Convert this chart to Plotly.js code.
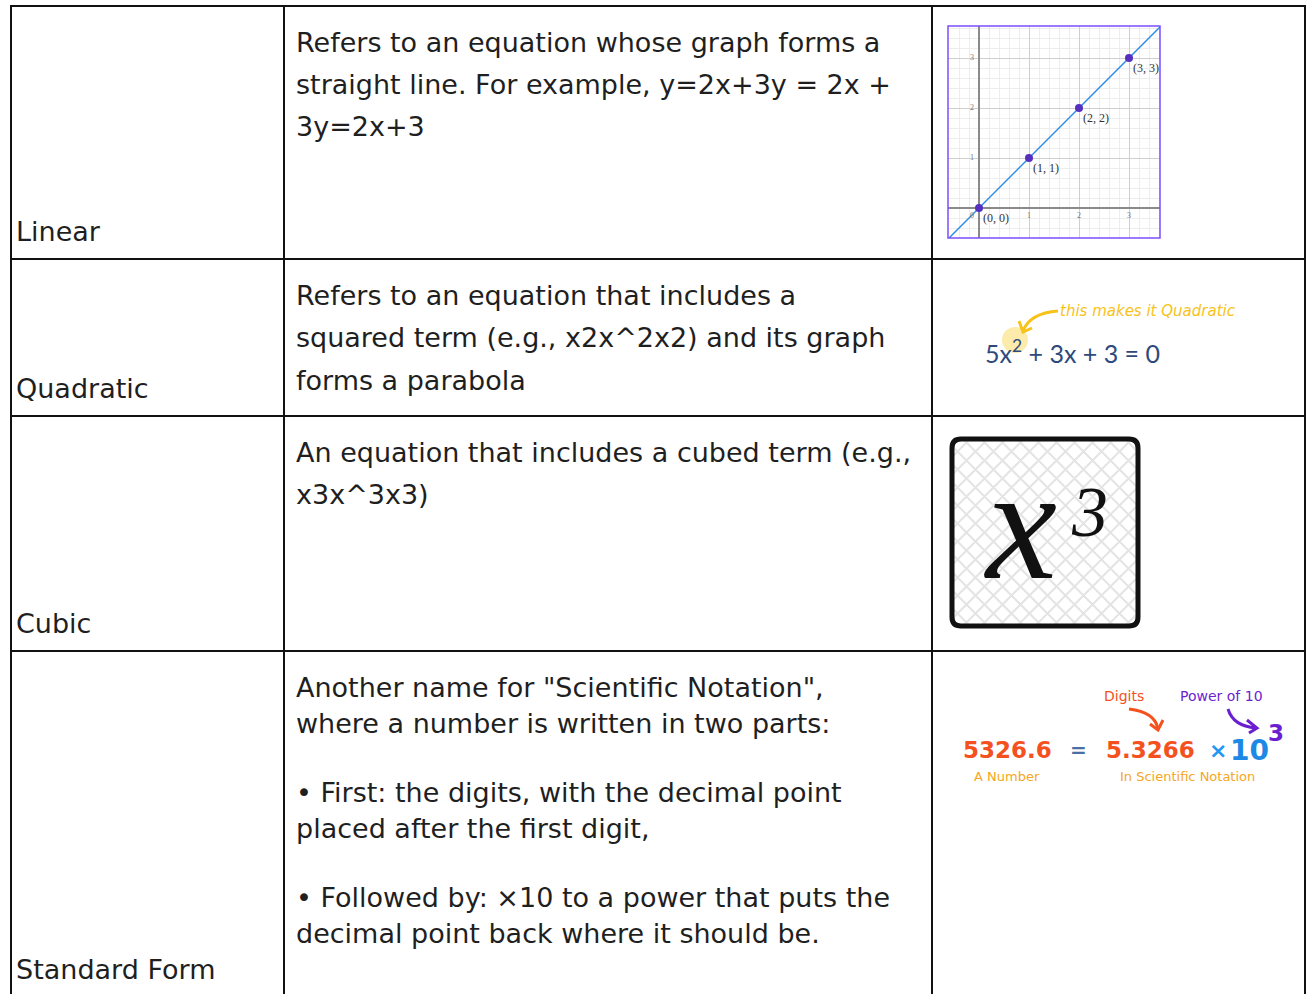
<!DOCTYPE html>
<html>
<head>
<meta charset="utf-8">
<script src="https://cdn.plot.ly/plotly-3.0.1.min.js"></script>
<style>
  html, body { margin: 0; padding: 0; background: #fff; }
  #chart { width: 1311px; height: 994px; }
</style>
</head>
<body>
<div id="chart"></div>
<script>
// --- data ---
const terms = ['Linear', 'Quadratic', 'Cubic', 'Standard Form'];
const definitions = [
  [['Refers to an equation whose graph forms a', 'straight line. For example, y=2x+3y = 2x +', '3y=2x+3']],
  [['Refers to an equation that includes a', 'squared term (e.g., x2x^2x2) and its graph', 'forms a parabola']],
  [['An equation that includes a cubed term (e.g.,', 'x3x^3x3)']],
  [['Another name for "Scientific Notation",', 'where a number is written in two parts:'],
   ['\u2022 First: the digits, with the decimal point', 'placed after the first digit,'],
   ['\u2022 Followed by: \u00d710 to a power that puts the', 'decimal point back where it should be.']]
];

// linear example: y = x
const lineX = [-1, 4];
const lineY = [-1, 4];
const pointX = [0, 1, 2, 3];
const pointY = [0, 1, 2, 3];
const pointLabels = ['(0, 0)', '(1, 1)', '(2, 2)', '(3, 3)'];
const axisTicks = [1, 2, 3];

// quadratic example
const quadEquation = '5x<sup>2</sup> + 3x + 3 = 0';
const quadNote = 'this makes it Quadratic';

// standard form example
const sfNumber = '5326.6';
const sfDigits = '5.3266';
const sfBase = '10';
const sfPower = '3';

// --- layout constants (pixels) ---
const W = 1311, H = 994;
const colX = [11, 284, 932, 1305];
const rowY = [6, 259, 416, 651, 997];
const lineGap = [42, 42.5, 42, 36.5];
const paraGap = 32;
const textFont = 'DejaVu Sans, sans-serif';
const textSize = 27;

const shapes = [];
const annotations = [];

// table grid
rowY.slice(0, 4).forEach(y => shapes.push({ type: 'line', xref: 'x', yref: 'y', x0: colX[0] - 1, x1: colX[3] + 1, y0: y, y1: y, line: { color: '#111', width: 2 } }));
colX.forEach(x => shapes.push({ type: 'line', xref: 'x', yref: 'y', x0: x, x1: x, y0: rowY[0] - 1, y1: H + 5, line: { color: '#111', width: 2 } }));

// term labels and definitions
terms.forEach((t, i) => {
  annotations.push({ xref: 'x', yref: 'y', x: 14, y: rowY[i + 1] - 28, text: t, showarrow: false,
    xanchor: 'left', yanchor: 'middle', font: { family: textFont, size: textSize, color: '#1f1f1f' } });
  let y = rowY[i] + 36;
  definitions[i].forEach((para, p) => {
    if (p > 0) y += paraGap;
    para.forEach(line => {
      annotations.push({ xref: 'x', yref: 'y', x: 294, y, text: line, showarrow: false,
        xanchor: 'left', yanchor: 'middle', font: { family: textFont, size: textSize, color: '#1f1f1f' } });
      y += lineGap[i];
    });
  });
});

// linear inset frame
shapes.push({ type: 'rect', xref: 'x2 domain', yref: 'y2 domain', x0: 0, x1: 1, y0: 0, y1: 1, line: { color: '#7c4dff', width: 1.5 } });
pointX.forEach((px, i) => annotations.push({ xref: 'x2', yref: 'y2', x: px, y: pointY[i], text: pointLabels[i], showarrow: false,
  xanchor: 'left', yanchor: 'middle', xshift: 2, yshift: -10, font: { family: 'Liberation Serif, serif', size: 12, color: '#333' } }));
axisTicks.forEach(t => {
  annotations.push({ xref: 'x2', yref: 'y2', x: t, y: 0, text: String(t), showarrow: false, yshift: -8, font: { family: 'Liberation Serif, serif', size: 8, color: '#777' } });
  annotations.push({ xref: 'x2', yref: 'y2', x: 0, y: t, text: String(t), showarrow: false, xshift: -7, font: { family: 'Liberation Serif, serif', size: 8, color: '#777' } });
});
annotations.push({ xref: 'x2', yref: 'y2', x: 0, y: 0, text: '0', showarrow: false, xshift: -7, yshift: -8, font: { family: 'Liberation Serif, serif', size: 8, color: '#777' } });

// quadratic example
shapes.push({ type: 'circle', xref: 'x', yref: 'y', x0: 1002, x1: 1028, y0: 327, y1: 353, fillcolor: '#fcebab', line: { width: 0 }, layer: 'below' });
shapes.push({ type: 'path', xref: 'x', yref: 'y', path: 'M 1058 311 Q 1030 313 1023 331', line: { color: '#f7c31a', width: 3 } });
shapes.push({ type: 'path', xref: 'x', yref: 'y', path: 'M 1019 321 L 1023 332 L 1032 328', line: { color: '#f7c31a', width: 3 } });
annotations.push({ xref: 'x', yref: 'y', x: 1058, y: 311, text: '<i>' + quadNote + '</i>', showarrow: false, xanchor: 'left',
  font: { family: 'DejaVu Sans, sans-serif', size: 15, color: '#f7c31a' } });
annotations.push({ xref: 'x', yref: 'y', x: 983, y: 351, text: quadEquation, showarrow: false, xanchor: 'left',
  font: { family: 'Lato, sans-serif', size: 25, color: '#2e4a7d' } });

// cubic example: hatched rounded box
const bx0 = 952, bx1 = 1138, by0 = 439, by1 = 626, r = 9, step = 18;
let hatch = '';
for (let c = -(by1 - bx0); c <= bx1 - by0; c += step) {
  const a = Math.max(bx0, by0 + c), b = Math.min(bx1, by1 + c);
  if (b > a) hatch += `M ${a} ${a - c} L ${b} ${b - c} `;
}
for (let c = bx0 + by0; c <= bx1 + by1; c += step) {
  const a = Math.max(bx0, c - by1), b = Math.min(bx1, c - by0);
  if (b > a) hatch += `M ${a} ${c - a} L ${b} ${c - b} `;
}
shapes.push({ type: 'path', xref: 'x', yref: 'y', path: hatch, line: { color: '#e4e4e4', width: 2 } });
shapes.push({ type: 'path', xref: 'x', yref: 'y',
  path: `M ${bx0 + r} ${by0} L ${bx1 - r} ${by0} Q ${bx1} ${by0} ${bx1} ${by0 + r} L ${bx1} ${by1 - r} Q ${bx1} ${by1} ${bx1 - r} ${by1} L ${bx0 + r} ${by1} Q ${bx0} ${by1} ${bx0} ${by1 - r} L ${bx0} ${by0 + r} Q ${bx0} ${by0} ${bx0 + r} ${by0} Z`,
  line: { color: '#111', width: 5 } });
annotations.push({ xref: 'x', yref: 'y', x: 1020, y: 524, text: '<i>x</i>', showarrow: false,
  font: { family: 'Liberation Serif, serif', size: 160, color: '#111' } });
annotations.push({ xref: 'x', yref: 'y', x: 1089, y: 512, text: '<i>3</i>', showarrow: false,
  font: { family: 'Liberation Serif, serif', size: 72, color: '#111' } });

// standard form example
const sfFont = 'DejaVu Sans, sans-serif';
annotations.push({ xref: 'x', yref: 'y', x: 1007, y: 750, text: '<b>' + sfNumber + '</b>', showarrow: false, font: { family: sfFont, size: 23, color: '#f4511e' } });
annotations.push({ xref: 'x', yref: 'y', x: 1078, y: 750, text: '<b>=</b>', showarrow: false, font: { family: sfFont, size: 20, color: '#4a6fa5' } });
annotations.push({ xref: 'x', yref: 'y', x: 1150, y: 750, text: '<b>' + sfDigits + '</b>', showarrow: false, font: { family: sfFont, size: 23, color: '#f4511e' } });
annotations.push({ xref: 'x', yref: 'y', x: 1218, y: 750, text: '<b>\u00d7</b>', showarrow: false, font: { family: sfFont, size: 22, color: '#2196f3' } });
annotations.push({ xref: 'x', yref: 'y', x: 1249, y: 750, text: '<b>' + sfBase + '</b>', showarrow: false, font: { family: sfFont, size: 28, color: '#1e88e5' } });
annotations.push({ xref: 'x', yref: 'y', x: 1276, y: 733, text: '<b>' + sfPower + '</b>', showarrow: false, font: { family: sfFont, size: 23, color: '#6a1fd0' } });
annotations.push({ xref: 'x', yref: 'y', x: 1124, y: 696, text: 'Digits', showarrow: false, font: { family: sfFont, size: 14, color: '#f4511e' } });
annotations.push({ xref: 'x', yref: 'y', x: 1221, y: 696, text: 'Power of 10', showarrow: false, font: { family: sfFont, size: 14, color: '#6a1fd0' } });
annotations.push({ xref: 'x', yref: 'y', x: 1007, y: 776, text: 'A Number', showarrow: false, font: { family: sfFont, size: 13, color: '#f5a623' } });
annotations.push({ xref: 'x', yref: 'y', x: 1187, y: 776, text: 'In Scientific Notation', showarrow: false, font: { family: sfFont, size: 13, color: '#f5a623' } });
shapes.push({ type: 'path', xref: 'x', yref: 'y', path: 'M 1129 709 Q 1155 712 1158 729', line: { color: '#f4511e', width: 3 } });
shapes.push({ type: 'path', xref: 'x', yref: 'y', path: 'M 1150 724 L 1158 730 L 1163 720', line: { color: '#f4511e', width: 3 } });
shapes.push({ type: 'path', xref: 'x', yref: 'y', path: 'M 1228 709 Q 1233 726 1256 728', line: { color: '#6a1fd0', width: 3 } });
shapes.push({ type: 'path', xref: 'x', yref: 'y', path: 'M 1247 720 L 1257 728 L 1249 733', line: { color: '#6a1fd0', width: 3 } });

const traces = [
  { x: lineX, y: lineY, xaxis: 'x2', yaxis: 'y2', mode: 'lines', type: 'scatter', line: { color: '#2d8ce6', width: 1.5 }, hoverinfo: 'skip' },
  { x: pointX, y: pointY, xaxis: 'x2', yaxis: 'y2', mode: 'markers', type: 'scatter', marker: { color: '#5530c0', size: 8 }, hoverinfo: 'skip' }
];

const layout = {
  width: W, height: H,
  margin: { l: 0, r: 0, t: 0, b: 0 },
  paper_bgcolor: '#fff', plot_bgcolor: '#fff',
  showlegend: false,
  xaxis: { domain: [0, 1], range: [0, W], visible: false, fixedrange: true },
  yaxis: { domain: [0, 1], range: [H, 0], visible: false, fixedrange: true },
  xaxis2: { domain: [948 / W, 1160 / W], range: [-0.62, 3.62], anchor: 'y2', showticklabels: false, ticks: '',
    dtick: 1, gridcolor: '#cfcfcf', gridwidth: 1, minor: { dtick: 0.2, showgrid: true, gridcolor: '#ededed' },
    zeroline: true, zerolinecolor: '#8a8a8a', zerolinewidth: 1.5, fixedrange: true },
  yaxis2: { domain: [1 - 238 / H, 1 - 26 / H], range: [-0.6, 3.64], anchor: 'x2', showticklabels: false, ticks: '',
    dtick: 1, gridcolor: '#cfcfcf', gridwidth: 1, minor: { dtick: 0.2, showgrid: true, gridcolor: '#ededed' },
    zeroline: true, zerolinecolor: '#8a8a8a', zerolinewidth: 1.5, fixedrange: true },
  shapes, annotations
};

Plotly.newPlot('chart', traces, layout, { displayModeBar: false, staticPlot: true });
</script>
</body>
</html>
